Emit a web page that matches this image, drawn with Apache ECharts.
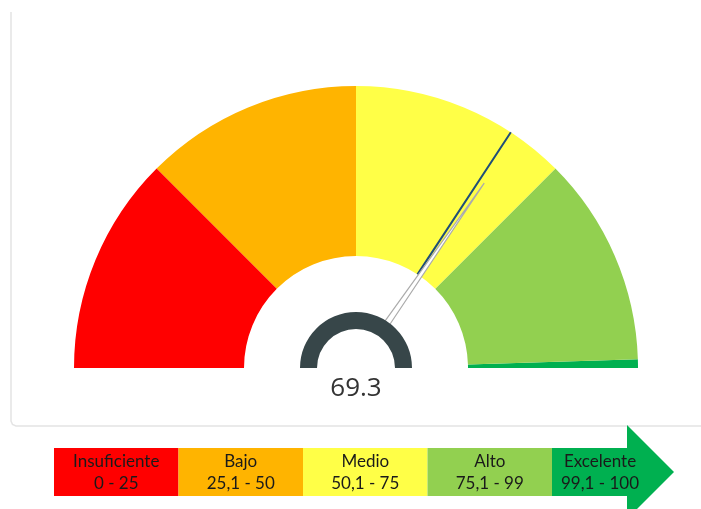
<!DOCTYPE html>
<html>
<head>
<meta charset="utf-8">
<script src="https://cdn.jsdelivr.net/npm/echarts@6/dist/echarts.min.js"></script>
<style>
  html, body { margin: 0; padding: 0; background: #fff; }
  #chart { width: 701px; height: 509px; }
</style>
</head>
<body>
<div id="chart"></div>
<script>
// tramos del indicador
var levelNames = ['Insuficiente', 'Bajo', 'Medio', 'Alto', 'Excelente'];
var levelRanges = ['0 - 25', '25,1 - 50', '50,1 - 75', '75,1 - 99', '99,1 - 100'];
var levelLimits = [25, 50, 75, 99, 100];
var levelColors = ['#FF0000', '#FFB400', '#FFFF47', '#92D050', '#00B050'];
// valor actual y linea objetivo
var gaugeValue = 69.3;
var targetValue = 68.5;
var gaugeMin = 0;
var gaugeMax = 100;

var cx = 356, cy = 368;
var outerR = 282, innerR = 112;

var myChart = echarts.init(document.getElementById('chart'));

// piezas comunes de los gauges (todo oculto salvo lo que se pida)
function baseGauge(radius) {
  return {
    type: 'gauge',
    center: [cx, cy],
    radius: radius,
    startAngle: 180,
    endAngle: 0,
    min: gaugeMin,
    max: gaugeMax,
    axisLine: { show: false },
    axisTick: { show: false },
    splitLine: { show: false },
    axisLabel: { show: false },
    anchor: { show: false },
    title: { show: false },
    detail: { show: false },
    pointer: { show: false },
    animation: false
  };
}

// franjas de color
var bands = baseGauge(outerR);
bands.axisLine = {
  show: true,
  lineStyle: {
    width: outerR - innerR,
    color: levelLimits.map(function (v, i) {
      return [(v - gaugeMin) / (gaugeMax - gaugeMin), levelColors[i]];
    })
  }
};
bands.data = [{ value: gaugeValue }];
bands.z = 1;

// linea objetivo azul, del borde interior al exterior
var target = baseGauge(outerR);
var gap = outerR - innerR;
target.pointer = {
  show: true,
  length: '100%',
  width: 2,
  icon: 'path://M0 0 L2 0 L2 ' + gap + ' L0 ' + gap + ' Z M0 ' + (outerR - 0.01) + ' L0.001 ' + (outerR - 0.01) + ' L0.001 ' + outerR + ' Z',
  itemStyle: { color: '#1f4e79' }
};
target.data = [{ value: targetValue }];
target.z = 3;

// aguja gris
var needleLen = 225, needleBase = 52;
var needle = baseGauge(needleLen);
var nb = needleLen - needleBase;
needle.pointer = {
  show: true,
  length: '100%',
  width: 6,
  icon: 'path://M3 0 L6 ' + nb + ' L0 ' + nb + ' Z M0 ' + (needleLen - 0.01) + ' L0.001 ' + (needleLen - 0.01) + ' L0.001 ' + needleLen + ' Z',
  itemStyle: { color: '#ffffff', borderColor: '#ababab', borderWidth: 1.2 }
};
needle.data = [{ value: gaugeValue }];
needle.z = 4;

// anillo central y valor
var ring = baseGauge(56);
ring.axisLine = { show: true, lineStyle: { width: 17, color: [[1, '#374649']] } };
// tapa blanca en el centro para ocultar la base de las agujas
ring.anchor = { show: true, showAbove: true, size: 10, itemStyle: { color: '#ffffff', borderWidth: 0 } };
ring.detail = {
  show: true,
  offsetCenter: [0, 21],
  fontSize: 26,
  fontWeight: 'normal',
  fontFamily: 'Open Sans',
  color: '#333333',
  formatter: function (v) { return v.toFixed(1); }
};
ring.data = [{ value: gaugeValue }];
ring.z = 5;

// leyenda en forma de flecha
var graphics = [];
graphics.push({
  type: 'polyline',
  shape: { points: [[11, 12], [11, 421], [12.5, 424.5], [16, 426], [701, 426]] },
  style: { stroke: '#e4e4e4', fill: null, lineWidth: 1.5 }
});
var boxEdges = [54, 178.5, 303, 427.5, 552, 628];
var boxTop = 448, boxH = 48;
graphics.push({
  type: 'polygon',
  shape: { points: [[627, 425], [674, 472], [627, 519]] },
  style: { fill: levelColors[4] }
});
levelNames.forEach(function (name, i) {
  var x0 = boxEdges[i], x1 = boxEdges[i + 1];
  graphics.push({
    type: 'rect',
    shape: { x: x0, y: boxTop, width: x1 - x0, height: boxH },
    style: { fill: levelColors[i] }
  });
  var tx = i === 4 ? 600 : (x0 + x1) / 2;
  graphics.push({
    type: 'text', x: tx, y: 462,
    style: { text: name, align: 'center', verticalAlign: 'middle', font: '17px Lato', fill: '#1a1a1a' }
  });
  graphics.push({
    type: 'text', x: tx, y: 484,
    style: { text: levelRanges[i], align: 'center', verticalAlign: 'middle', font: '17px Lato', fill: '#1a1a1a' }
  });
});

myChart.setOption({
  backgroundColor: '#ffffff',
  animation: false,
  series: [bands, target, needle, ring],
  graphic: graphics
});
</script>
</body>
</html>
